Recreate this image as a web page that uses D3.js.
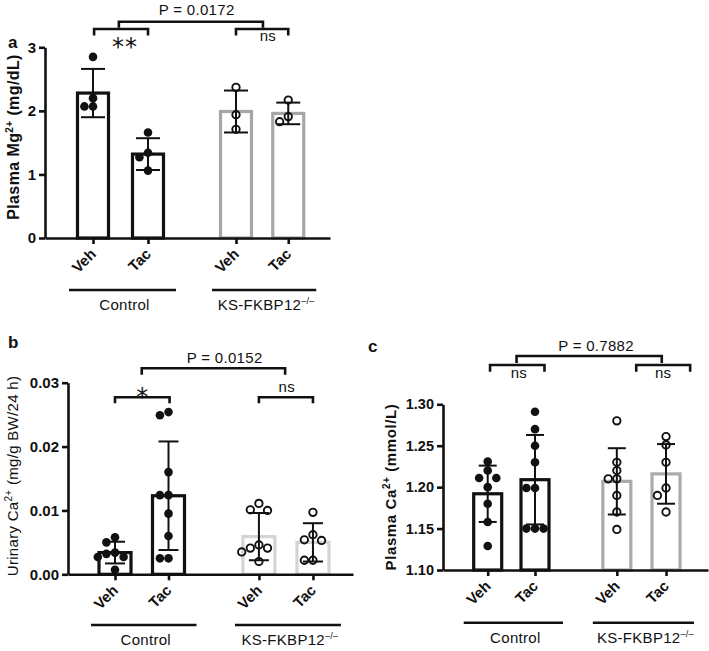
<!DOCTYPE html>
<html>
<head>
<meta charset="utf-8">
<script src="https://cdn.jsdelivr.net/npm/d3@7"></script>
<style>
  body { margin: 0; background: #fff; }
  svg text { font-family: "Liberation Sans", Arial, Helvetica, sans-serif; fill: #111; }
</style>
</head>
<body>
<svg id="chart" width="709" height="651"></svg>
<script>
// groups on every x axis
const treatments = ["Veh", "Tac", "Veh", "Tac"];
const genotypes = ["Control", "KS-FKBP12"];
const genotypeSup = ["", "\u2013/\u2013"];

// a: plasma Mg2+ (mg/dL)
const mgTicks = [0, 1, 2, 3];
const mgMean = [2.28, 1.32, 1.99, 1.96];
const mgSd = [0.38, 0.25, 0.33, 0.17];
const mgPoints = [
  [2.85, 2.20, 2.07, 2.07],
  [1.66, 1.34, 1.27, 1.06],
  [2.37, 1.94, 1.71],
  [2.17, 1.91, 1.83]
];
const mgStats = ["**", "ns", "P = 0.0172"];

// b: urinary Ca2+ (mg/g BW/24 h)
const ucaTicks = [0, 0.01, 0.02, 0.03];
const ucaMean = [0.0034, 0.0123, 0.0059, 0.0050];
const ucaSd = [0.0017, 0.0085, 0.0037, 0.0030];
const ucaPoints = [
  [0.0058, 0.0050, 0.0034, 0.0032, 0.0027, 0.0027, 0.0007],
  [0.0254, 0.0249, 0.0160, 0.0124, 0.0124, 0.0095, 0.0060, 0.0025, 0.0025],
  [0.0111, 0.0101, 0.0100, 0.0046, 0.0041, 0.0041, 0.0035, 0.0020],
  [0.0097, 0.0062, 0.0054, 0.0053, 0.0022, 0.0022]
];
const ucaStats = ["*", "ns", "P = 0.0152"];

// c: plasma Ca2+ (mmol/L)
const caTicks = [1.10, 1.15, 1.20, 1.25, 1.30];
const caMean = [1.192, 1.209, 1.207, 1.216];
const caSd = [0.034, 0.054, 0.040, 0.036];
const caPoints = [
  [1.231, 1.220, 1.211, 1.211, 1.200, 1.180, 1.158, 1.129],
  [1.291, 1.270, 1.250, 1.230, 1.199, 1.199, 1.150, 1.150, 1.150],
  [1.280, 1.230, 1.220, 1.210, 1.210, 1.190, 1.170, 1.149],
  [1.261, 1.251, 1.230, 1.199, 1.190, 1.170]
];
const caStats = ["ns", "ns", "P = 0.7882"];

const ink = "#111";
const svg = d3.select("#chart");

// place dots so they don't overlap (simple beeswarm)
function swarm(vals, y, r) {
  const placed = [];
  return vals.map(v => {
    const py = y(v);
    let off = 0;
    for (let k = 0; k < 15; k++) {
      const c = k === 0 ? 0 : (k % 2 ? -1 : 1) * Math.ceil(k / 2) * 2 * r;
      if (placed.every(p => Math.hypot(p[0] - c, p[1] - py) >= 2 * r - 0.5)) { off = c; break; }
    }
    placed.push([off, py]);
    return off;
  });
}

function drawPanel(p) {
  const g = svg.append("g");
  const y = d3.scaleLinear().domain(p.yDomain).range([p.yBottom, p.yTop]);
  const x = d3.scaleLinear()
    .domain([(p.axisX - p.x0) / p.unit, (p.right - p.x0) / p.unit])
    .range([p.axisX, p.right]);
  const base = p.yDomain[0];

  // bars
  g.selectAll(".bar").data(p.mean).join("rect")
    .attr("x", (d, i) => x(p.slots[i]) - p.bw / 2)
    .attr("y", d => y(d))
    .attr("width", p.bw)
    .attr("height", d => y(base) - y(d))
    .attr("fill", "#fff")
    .attr("stroke", (d, i) => i < 2 ? ink : p.koColor)
    .attr("stroke-width", 3.2);

  // error bars (mean +/- SD)
  p.mean.forEach((m, i) => {
    const cx = x(p.slots[i]), hi = y(m + p.sd[i]), lo = y(m - p.sd[i]);
    const eb = g.append("g").attr("stroke", ink).attr("stroke-width", 2);
    eb.append("line").attr("x1", cx).attr("x2", cx).attr("y1", hi).attr("y2", lo);
    [hi, lo].forEach(yy => eb.append("line")
      .attr("x1", cx - p.cap / 2).attr("x2", cx + p.cap / 2).attr("y1", yy).attr("y2", yy));
  });

  // individual animals
  p.points.forEach((vals, i) => {
    const offs = swarm(vals, y, p.r);
    g.selectAll(null).data(vals).join("circle")
      .attr("cx", (d, j) => x(p.slots[i]) + offs[j])
      .attr("cy", d => y(d))
      .attr("r", i < 2 ? p.r : p.r - 0.6)
      .attr("fill", i < 2 ? ink : "none")
      .attr("stroke", ink)
      .attr("stroke-width", i < 2 ? 0 : 1.9);
  });

  // y axis
  const ya = g.append("g").attr("transform", `translate(${p.axisX},0)`)
    .call(d3.axisLeft(y).tickValues(p.ticks).tickFormat(d3.format(p.fmt))
      .tickSize(6).tickSizeOuter(0).tickPadding(3));
  ya.selectAll("path,line").attr("stroke", ink).attr("stroke-width", 2.6);
  ya.selectAll("text").attr("fill", ink).style("font-size", p.tickSize + "px").style("font-weight", "bold")
    .style("font-family", "'Liberation Sans', Arial, sans-serif");

  // x axis
  const xa = g.append("g").attr("transform", `translate(0,${p.yBottom})`)
    .call(d3.axisBottom(x).tickValues(p.slots).tickFormat("").tickSize(6).tickSizeOuter(0));
  xa.selectAll("path,line").attr("stroke", ink).attr("stroke-width", 2.6);

  treatments.forEach((t, i) => {
    g.append("text")
      .attr("transform", `translate(${x(p.slots[i]) + 4},${p.yBottom + 17}) rotate(-45)`)
      .attr("text-anchor", "end")
      .style("font-size", "15px").style("font-weight", "bold")
      .text(t);
  });

  // genotype groups
  genotypes.forEach((name, k) => {
    const x1 = x(p.slots[2 * k]) - 24, x2 = x(p.slots[2 * k + 1]) + 28;
    g.append("line").attr("x1", x1).attr("x2", x2)
      .attr("y1", p.groupY).attr("y2", p.groupY)
      .attr("stroke", ink).attr("stroke-width", 2.6);
    const t = g.append("text").attr("x", (x1 + x2) / 2 + 2).attr("y", p.groupY + 20)
      .attr("text-anchor", "middle").style("font-size", "15px").style("letter-spacing", "0.3px");
    t.append("tspan").text(name);
    if (genotypeSup[k]) t.append("tspan").attr("dy", -6).style("font-size", "9px").text(genotypeSup[k]);
  });

  // y label
  const yl = g.append("text")
    .attr("transform", `translate(${p.labelX},${p.labelY}) rotate(-90)`)
    .attr("text-anchor", "middle")
    .style("font-size", p.labelSize + "px")
    .style("font-weight", p.labelBold ? "bold" : "normal")
    .style("letter-spacing", p.labelSpacing + "px");
  yl.append("tspan").text(p.label[0]);
  yl.append("tspan").attr("dy", -6).style("font-size", "10px").text(p.label[1]);
  yl.append("tspan").attr("dy", 6).text(p.label[2]);

  // panel letter
  g.append("text").attr("x", p.letterPos[0]).attr("y", p.letterPos[1])
    .style("font-size", "17px").style("font-weight", "bold").text(p.letter);

  // significance brackets
  p.brackets.forEach((b, i) => {
    const x1 = x(b.x1), x2 = x(b.x2);
    g.append("path")
      .attr("d", `M${x1},${b.y + b.drop}V${b.y}H${x2}V${b.y + b.drop}`)
      .attr("fill", "none").attr("stroke", ink).attr("stroke-width", 2.6);
    const star = p.stats[i].startsWith("*");
    g.append("text").attr("x", x(b.tx)).attr("y", b.ty)
      .attr("text-anchor", "middle")
      .style("font-family", star ? "'DejaVu Sans', sans-serif" : null)
      .style("font-size", star ? b.size + "px" : "15px")
      .style("letter-spacing", star ? "1px" : "0.3px")
      .text(p.stats[i]);
  });
}

drawPanel({
  letter: "a", letterPos: [8, 48],
  yDomain: [0, 3], yTop: 47.3, yBottom: 238, ticks: mgTicks, fmt: "d", tickSize: 15,
  axisX: 45, right: 330, x0: 93, unit: 55, slots: [0, 1, 2.6, 3.55],
  bw: 31, cap: 24, r: 4.3, koColor: "#a6a6a6",
  mean: mgMean, sd: mgSd, points: mgPoints, stats: mgStats,
  groupY: 290,
  label: ["Plasma Mg", "2+", " (mg/dL)"], labelX: 19, labelY: 137, labelSize: 16, labelBold: true, labelSpacing: 0.4,
  brackets: [
    { x1: 0.02, x2: 1, y: 29, drop: 6.5, tx: 0.58, ty: 55, size: 24 },
    { x1: 2.6, x2: 3.55, y: 29, drop: 6.5, tx: 3.18, ty: 41 },
    { x1: 0.47, x2: 3.09, y: 21.7, drop: 6, tx: 1.885, ty: 15 }
  ]
});

drawPanel({
  letter: "b", letterPos: [8, 348],
  yDomain: [0, 0.03], yTop: 382.7, yBottom: 574.3, ticks: ucaTicks, fmt: ".2f", tickSize: 15,
  axisX: 68, right: 353, x0: 115, unit: 53.5, slots: [0, 1, 2.69, 3.7],
  bw: 32, cap: 20, r: 4.3, koColor: "#d4d4d4",
  mean: ucaMean, sd: ucaSd, points: ucaPoints, stats: ucaStats,
  groupY: 625,
  label: ["Urinary Ca", "2+", " (mg/g BW/24 h)"], labelX: 18, labelY: 476, labelSize: 15, labelBold: false, labelSpacing: 0.3,
  brackets: [
    { x1: 0, x2: 1.02, y: 397.3, drop: 6, tx: 0.52, ty: 405, size: 24 },
    { x1: 2.69, x2: 3.7, y: 397.3, drop: 6, tx: 3.21, ty: 392 },
    { x1: 0.5, x2: 3.18, y: 368.3, drop: 6.5, tx: 2.05, ty: 363 }
  ]
});

drawPanel({
  letter: "c", letterPos: [368, 352],
  yDomain: [1.10, 1.30], yTop: 404.3, yBottom: 570, ticks: caTicks, fmt: ".2f", tickSize: 14.5,
  axisX: 443, right: 708, x0: 487.7, unit: 47.3, slots: [0, 1, 2.73, 3.77],
  bw: 28, cap: 18, r: 4.3, koColor: "#ababab",
  mean: caMean, sd: caSd, points: caPoints, stats: caStats,
  groupY: 622.7,
  label: ["Plasma Ca", "2+", " (mmol/L)"], labelX: 396, labelY: 487, labelSize: 15, labelBold: true, labelSpacing: 0.6,
  brackets: [
    { x1: 0.05, x2: 1.2, y: 365, drop: 6.7, tx: 0.66, ty: 378 },
    { x1: 3.14, x2: 4.28, y: 365, drop: 6.7, tx: 3.71, ty: 378 },
    { x1: 0.61, x2: 3.68, y: 356, drop: 7, tx: 2.29, ty: 351 }
  ]
});
</script>
</body>
</html>
